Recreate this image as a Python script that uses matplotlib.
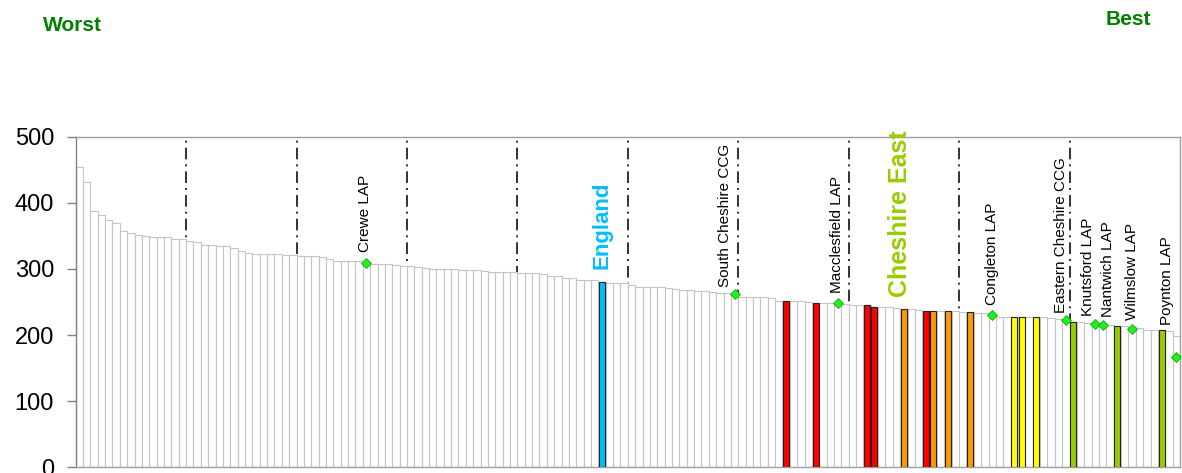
import matplotlib.pyplot as plt
import numpy as np

plt.rcParams['font.family'] = ['Liberation Sans', 'DejaVu Sans']

# rate per area, sorted worst -> best (150 areas incl. England)
values = [454, 431, 388, 381, 374, 370, 358, 354, 351, 350,
          349, 349, 348, 346, 345, 342, 341, 336, 336, 335,
          334, 331, 327, 324, 323, 323, 322, 322, 321, 321,
          320, 320, 320, 318, 315, 312, 312, 312, 312, 310,
          308, 307, 307, 306, 305, 304, 303, 302, 300, 300,
          300, 300, 299, 299, 299, 297, 296, 296, 296, 295,
          294, 294, 294, 293, 290, 290, 287, 286, 283, 283,
          283, 280, 279, 279, 279, 275, 273, 272, 272, 272,
          271, 269, 268, 268, 267, 266, 265, 264, 263, 262,
          258, 257, 257, 257, 256, 252, 252, 251, 251, 250,
          249, 249, 248, 248, 247, 246, 245, 245, 243, 243,
          243, 241, 240, 239, 238, 237, 236, 236, 236, 236,
          235, 235, 234, 233, 231, 228, 227, 227, 227, 227,
          227, 227, 226, 225, 223, 220, 220, 218, 217, 216,
          215, 213, 213, 212, 210, 208, 208, 207, 206, 199]

england_bar = 71
cheshire_east_bar = 112
red_bars = [96, 100, 107, 108, 115]
orange_bars = [112, 116, 118, 121]
yellow_bars = [127, 128, 130]
green_bars = [135, 141, 147]

lap_names = ['Crewe LAP', 'South Cheshire CCG', 'Macclesfield LAP', 'Congleton LAP',
             'Eastern Cheshire CCG', 'Knutsford LAP', 'Nantwich LAP', 'Wilmslow LAP',
             'Poynton LAP']
lap_rank = [39, 89, 103, 124, 134, 138, 139, 143, 149]
lap_values = [309.5, 262.6, 248.5, 230.3, 222.8, 216.3, 215.3, 209.7, 167.3]
# label offsets in pixels (dx, dy) from the marker
lap_offsets = [(-1, 11), (-10, 7), (-1, 10), (0, 10), (-5, 7), (-7, 8), (5, 8), (0, 9), (-9, 32)]

fig = plt.figure(figsize=(11.82, 4.73), dpi=100)
ax = fig.add_axes([0.064, 0.012, 0.9343, 0.699])

x = np.arange(len(values))
ax.bar(x, values, width=1.0, color='white', edgecolor='#c4c4c4', linewidth=0.8, zorder=2)

groups = [(red_bars, '#ff0000'), (orange_bars, '#ff9900'),
          (yellow_bars, '#ffff00'), (green_bars, '#99cc00'),
          ([england_bar], '#00bfff')]
for idx, col in groups:
    ax.bar(idx, [values[i] for i in idx], width=0.82, color=col,
           edgecolor='#222222', linewidth=0.8, zorder=3)

# decile lines
for k in range(1, 10):
    ax.axvline(k * 15 - 0.5, color='#111111', linewidth=1.2,
               linestyle=(0, (7, 3, 1.2, 3)), zorder=1)

ax.plot(lap_rank, lap_values, linestyle='none', marker='D', markersize=5,
        markerfacecolor='#22ee22', markeredgecolor='#11aa11', markeredgewidth=0.6, zorder=4)
for name, r, v, (dx, dy) in zip(lap_names, lap_rank, lap_values, lap_offsets):
    ax.annotate(name, (r, v), xytext=(dx, dy), textcoords='offset pixels',
                rotation=90, ha='center', va='bottom', fontsize=11, zorder=5)

ax.annotate('England', (england_bar, values[england_bar]), xytext=(0, 13),
            textcoords='offset pixels', rotation=90, ha='center', va='bottom',
            fontsize=16, fontweight='bold', color='#00bfff')
ax.annotate('Cheshire East', (cheshire_east_bar, values[cheshire_east_bar]), xytext=(-4, 12),
            textcoords='offset pixels', rotation=90, ha='center', va='bottom',
            fontsize=18, fontweight='bold', color='#99cc00')

ax.set_xlim(-0.5, len(values) - 0.5)
ax.set_ylim(0, 500)
ax.set_yticks([0, 100, 200, 300, 400, 500])
ax.set_xticks([])
ax.tick_params(axis='y', direction='out', length=6.5, width=1, color='#808080',
               labelsize=17, pad=9)
for s in ax.spines.values():
    s.set_color('#a0a0a0')
    s.set_linewidth(1)
ax.spines['left'].set_color('#808080')

fig.text(0.0364, 0.947, 'Worst', color='#008000', fontsize=15, fontweight='bold', va='center')
fig.text(0.9357, 0.958, 'Best', color='#008000', fontsize=15, fontweight='bold', va='center')

fig.savefig('out.png', dpi=100)
